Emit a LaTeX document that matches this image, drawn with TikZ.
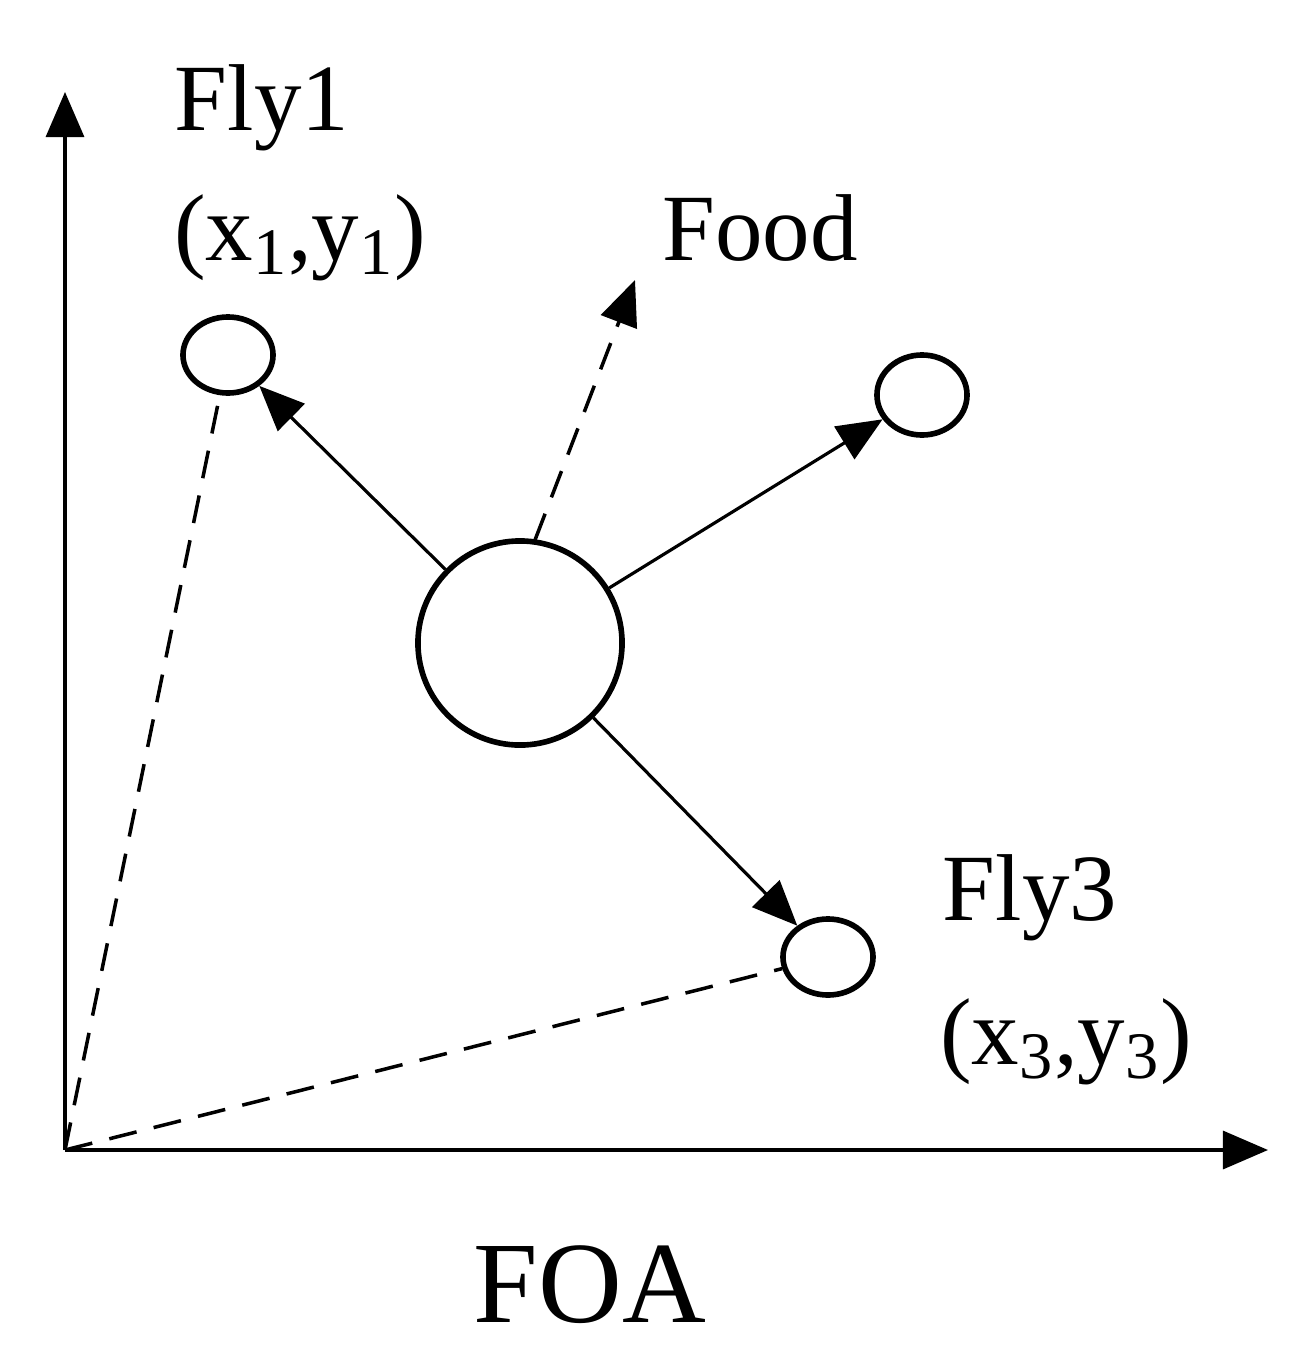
\documentclass[tikz,border=0pt]{standalone}
\usepackage{fontspec}
\setmainfont{Liberation Serif}
\usetikzlibrary{arrows.meta,shapes.geometric}
\begin{document}
\begin{tikzpicture}[x=0.01cm,y=-0.01cm,
  fly/.style={draw,line width=1.6pt,ellipse,inner sep=0pt},
  arr/.style={-{Triangle[length=0.45cm,width=0.38cm]},line width=0.9pt},
  dsh/.style={line width=1pt,dash pattern=on 8pt off 5pt},
  lbl/.style={font=\fontsize{27}{30}\selectfont}]
\useasboundingbox (0,0) rectangle (1297,1354);
\coordinate (O) at (65,1150);
\coordinate (Y) at (65,92);
\coordinate (X) at (1268,1150);
\draw[arr] (O) -- (Y);
\draw[arr] (O) -- (X);
\node[fly,minimum width=0.9cm,minimum height=0.76cm] (f1) at (228,355) {};
\node[fly,minimum width=0.9cm,minimum height=0.8cm] (f2) at (922,395) {};
\node[fly,minimum width=0.9cm,minimum height=0.76cm] (f3) at (828,957) {};
\node[draw,circle,line width=1.6pt,minimum size=2.04cm,inner sep=0pt] (c) at (520,643) {};
\coordinate (food) at (635,280);
\coordinate (cs) at (535,540);
\draw[arr] (c) -- (f1);
\draw[arr] (c) -- (f2);
\draw[arr] (c) -- (f3);
\draw[dsh,-{Triangle[length=0.45cm,width=0.38cm]}] (cs) -- (food);
\draw[dsh] (O) -- (f1);
\draw[dsh] (O) -- (f3);
\node[lbl] (t1) at (262,108) {Fly1};
\node[lbl] (t2) at (300,238) {(x$_{\mathrm{1}}$,y$_{\mathrm{1}}$)};
\node[lbl] (t3) at (760,228) {Food};
\node[lbl] (t4) at (1030,898) {Fly3};
\node[lbl] (t5) at (1066,1042) {(x$_{\mathrm{3}}$,y$_{\mathrm{3}}$)};
\node[font=\fontsize{33}{36}\selectfont] (t6) at (590,1285) {FOA};
\end{tikzpicture}
\end{document}
